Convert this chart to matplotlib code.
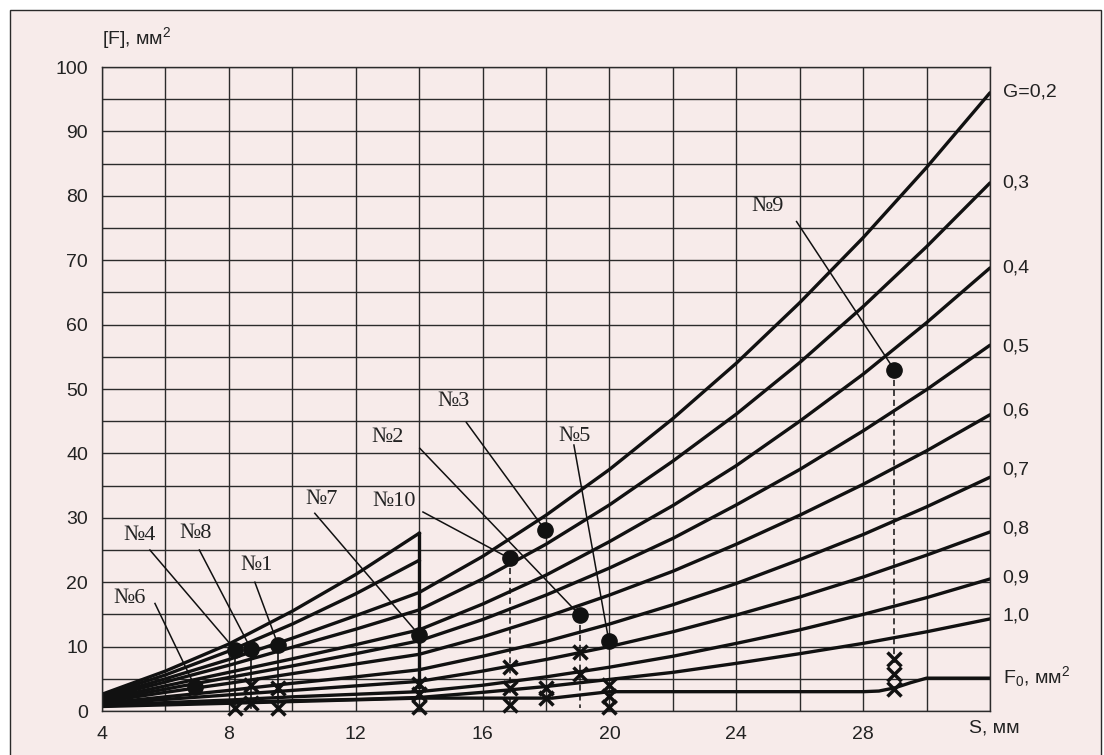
import matplotlib.pyplot as plt
from matplotlib.patches import Rectangle

plt.rcParams['font.family'] = ['Liberation Sans', 'DejaVu Sans']
plt.rcParams['mathtext.fontset'] = 'custom'
plt.rcParams['mathtext.rm'] = 'Liberation Sans'
plt.rcParams['mathtext.it'] = 'Liberation Sans'

# S, mm (common grid for the G curves)
s_grid = [4, 6, 8, 10, 12, 14, 16, 18, 20, 22, 24, 26, 28, 30, 32]

# [F] curves for every G value
g_02 = [2.2, 5.0, 8.0, 11.3, 14.8, 18.4, 24.0, 30.4, 37.5, 45.4, 54.0, 63.4, 73.5, 84.4, 96.0]
g_03 = [2.0, 4.5, 7.1, 9.9, 12.7, 15.7, 20.5, 25.9, 32.0, 38.8, 46.1, 54.1, 62.8, 72.1, 82.0]
g_04 = [1.8, 3.9, 6.0, 8.1, 10.3, 12.6, 16.6, 21.1, 26.3, 31.9, 38.1, 45.0, 52.3, 60.3, 68.8]
g_05 = [1.6, 3.4, 5.2, 7.0, 8.9, 10.9, 14.2, 18.0, 22.2, 26.8, 32.0, 37.5, 43.5, 49.9, 56.8]
g_06 = [1.4, 2.9, 4.3, 5.8, 7.3, 8.8, 11.5, 14.6, 18.0, 21.7, 25.9, 30.4, 35.2, 40.4, 46.0]
g_07 = [1.2, 2.2, 3.2, 4.3, 5.3, 6.4, 8.5, 10.8, 13.5, 16.5, 19.8, 23.5, 27.4, 31.7, 36.3]
g_08 = [1.1, 1.8, 2.5, 3.2, 3.9, 4.6, 6.2, 8.0, 10.0, 12.3, 14.9, 17.7, 20.8, 24.2, 27.8]
g_09 = [0.9, 1.3, 1.7, 2.2, 2.6, 3.0, 4.0, 5.3, 6.8, 8.5, 10.5, 12.6, 15.0, 17.6, 20.5]
g_10 = [0.8, 1.1, 1.3, 1.6, 1.8, 2.1, 2.9, 3.8, 4.9, 6.0, 7.4, 8.9, 10.5, 12.3, 14.3]
g_curves = [g_02, g_03, g_04, g_05, g_06, g_07, g_08, g_09, g_10]

# two short lines on the left part that stop at S=14
s_left = [4, 6, 8, 10, 12, 14]
left_a = [2.6, 6.2, 10.4, 15.5, 21.2, 27.6]
left_b = [2.4, 5.6, 9.3, 13.5, 18.2, 23.4]
drop_s = [14, 14]
drop_f = [27.6, 3.8]

# F0 line
f0_s = [4, 8, 14, 18.2, 20, 28, 28.5, 29, 29.5, 30, 32]
f0 = [0.7, 1.2, 2.0, 2.0, 3.0, 3.0, 3.1, 3.6, 4.4, 5.1, 5.1]

# labels on the right
right_labels = ['G=0,2', '0,3', '0,4', '0,5', '0,6', '0,7', '0,8', '0,9', '1,0', 'F$_0$, мм$^2$']
right_label_f = [96.1, 82.0, 68.8, 56.5, 46.6, 37.4, 28.3, 20.7, 14.8, 5.3]

# samples No1..No10
sample_names = ['№1', '№2', '№3', '№4', '№5', '№6', '№7', '№8', '№9', '№10']
sample_s = [9.55, 19.06, 17.97, 8.2, 19.98, 6.93, 14.0, 8.7, 28.98, 16.85]
sample_f = [10.3, 14.9, 28.1, 9.5, 10.9, 3.8, 11.8, 9.6, 53.0, 23.7]
name_s = [8.87, 13.0, 15.09, 5.18, 18.9, 4.88, 10.92, 6.96, 24.98, 13.2]
name_f = [22.6, 42.5, 48.0, 27.3, 42.6, 17.5, 32.8, 27.6, 78.3, 32.5]
leader_s = [8.82, 14.02, 15.49, 5.51, 18.88, 5.67, 10.71, 7.07, 25.9, 14.12]
leader_f = [20.0, 40.8, 44.8, 25.0, 41.3, 16.7, 30.7, 25.0, 76.0, 30.9]

# drop lines from the dots
dashed_s = [16.85, 19.06, 28.98]
dashed_top = [23.7, 14.9, 53.0]
dashed_bottom = [0.5, 0.5, 7.5]
solid_s = [8.2, 8.7, 9.55]
solid_top = [9.5, 9.6, 10.3]
solid_bottom = [0.3, 0.5, 0.3]

# crosses
cross_s = [8.2, 8.7, 8.7, 9.55, 9.55, 14, 14, 14, 16.85, 16.85, 16.85,
           18, 18, 19.06, 19.06, 20, 20, 20, 28.98, 28.98, 28.98]
cross_f = [0.4, 1.2, 4.0, 0.5, 3.6, 4.2, 2.6, 0.6, 6.9, 3.5, 0.9,
           3.5, 2.0, 9.2, 5.8, 4.0, 2.3, 0.6, 8.0, 5.7, 3.4]

W, H = 1104, 755
fig = plt.figure(figsize=(W / 100, H / 100), dpi=100)
fig.patch.set_facecolor('white')
pink = '#f7ebea'
frame = Rectangle((10 / W, -0.02), 1091 / W, 1 - 10 / H + 0.02, transform=fig.transFigure,
                  facecolor=pink, edgecolor='#2a2a2a', lw=1.0, zorder=-10)
fig.add_artist(frame)

ax = fig.add_axes([102 / W, 1 - 711 / H, 888 / W, 644 / H])
ax.set_facecolor('none')
ax.set_xlim(4, 32)
ax.set_ylim(0, 100)
ax.set_xticks(range(4, 29, 4))
ax.set_xticks(range(4, 33, 2), minor=True)
ax.set_yticks(range(0, 101, 10))
ax.set_yticks(range(0, 101, 5), minor=True)
ax.grid(which='both', color='#2b2b2b', lw=1.0)
ax.set_axisbelow(True)
ax.tick_params(which='both', length=0, labelsize=14, colors='#222222')
ax.tick_params(axis='x', pad=11)
ax.tick_params(axis='y', pad=10)
for sp in ax.spines.values():
    sp.set_color('#2b2b2b')
    sp.set_linewidth(1.0)

lw_curve = 2.4
for vals in g_curves:
    ax.plot(s_grid, vals, color='#111111', lw=lw_curve, solid_capstyle='round')
ax.plot(s_left, left_a, color='#111111', lw=lw_curve)
ax.plot(s_left, left_b, color='#111111', lw=lw_curve)
ax.plot(drop_s, drop_f, color='#111111', lw=lw_curve)
ax.plot(f0_s, f0, color='#111111', lw=lw_curve)

for txt, f in zip(right_labels, right_label_f):
    ax.text(32.4, f, txt, fontsize=14, ha='left', va='center', color='#222222', clip_on=False)

# drop lines
for s, t, b in zip(dashed_s, dashed_top, dashed_bottom):
    ax.plot([s, s], [t, b], color='#111111', lw=1.1, ls=(0, (4, 2.5)))
for s, t, b in zip(solid_s, solid_top, solid_bottom):
    ax.plot([s, s], [t, b], color='#111111', lw=1.2)

# leaders and names
for i in range(len(sample_names)):
    ax.plot([leader_s[i], sample_s[i]], [leader_f[i], sample_f[i]], color='#111111', lw=1.1)
    ax.text(name_s[i], name_f[i], sample_names[i], fontsize=16, family=['Liberation Serif', 'DejaVu Serif'],
            ha='center', va='center', color='#222222')

ax.plot(sample_s, sample_f, 'o', color='#111111', ms=11, ls='none', zorder=5)
ax.plot(cross_s, cross_f, 'x', color='#111111', ms=10, mew=2.5, ls='none', zorder=5, clip_on=False)

fig.text(102 / W, 1 - 38 / H, '[F], мм$^2$', fontsize=14, ha='left', va='center', color='#222222')
fig.text(994 / W, 1 - 728 / H, 'S, мм', fontsize=14, ha='center', va='center', color='#222222')

fig.savefig('out.png', dpi=100, facecolor=fig.get_facecolor())
